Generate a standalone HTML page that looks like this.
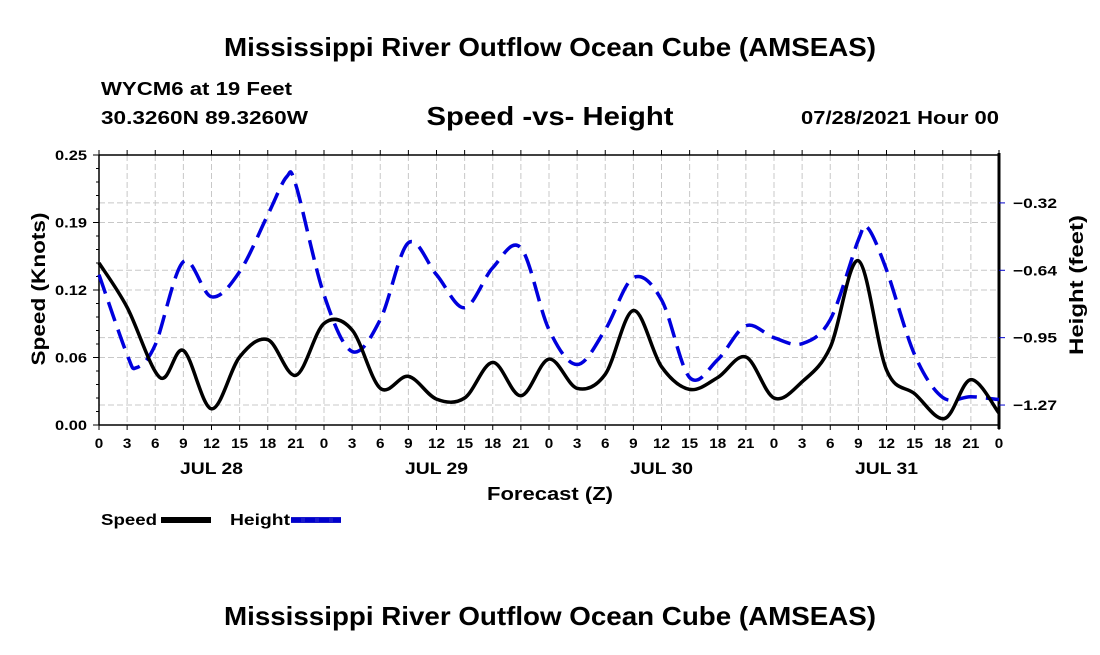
<!DOCTYPE html>
<html><head><meta charset="utf-8">
<style>
html,body{margin:0;padding:0;background:#fff;}
svg text{font-family:"Liberation Sans",Arial,sans-serif;font-weight:bold;fill:#000;}
</style></head>
<body>
<svg id="chart" width="1100" height="650" viewBox="0 0 1100 650" xmlns="http://www.w3.org/2000/svg">
<rect x="0" y="0" width="1100" height="650" fill="#fff"/>
<text x="550" y="56" font-size="26" text-anchor="middle" textLength="652" lengthAdjust="spacingAndGlyphs">Mississippi River Outflow Ocean Cube (AMSEAS)</text>
<text x="101" y="95" font-size="18" textLength="191" lengthAdjust="spacingAndGlyphs">WYCM6 at 19 Feet</text>
<text x="101" y="124" font-size="18" textLength="207" lengthAdjust="spacingAndGlyphs">30.3260N  89.3260W</text>
<text x="550" y="125" font-size="26" text-anchor="middle" textLength="247" lengthAdjust="spacingAndGlyphs">Speed -vs- Height</text>
<text x="999" y="124" font-size="18" text-anchor="end" textLength="198" lengthAdjust="spacingAndGlyphs">07/28/2021 Hour 00</text>
<g id="grid"></g>
<g id="axes"></g>
<g id="series"></g>
<text transform="translate(45,289) rotate(-90)" font-size="19" text-anchor="middle" textLength="153" lengthAdjust="spacingAndGlyphs">Speed (Knots)</text>
<text transform="translate(1083,285) rotate(-90)" font-size="19" text-anchor="middle" textLength="140" lengthAdjust="spacingAndGlyphs">Height (feet)</text>
<text x="550" y="500" font-size="18" text-anchor="middle" textLength="126" lengthAdjust="spacingAndGlyphs">Forecast (Z)</text>
<g>
<text x="101" y="525" font-size="16" textLength="56" lengthAdjust="spacingAndGlyphs">Speed</text>
<rect x="161" y="517" width="50" height="6" fill="#000"/>
<text x="230" y="525" font-size="16" textLength="60" lengthAdjust="spacingAndGlyphs">Height</text>
<rect x="291" y="517" width="50" height="6" fill="#1a1acc"/>
<line x1="291" y1="520" x2="341" y2="520" stroke="#00c" stroke-width="4" stroke-dasharray="10,4"/>
</g>
<text x="550" y="625" font-size="26" text-anchor="middle" textLength="652" lengthAdjust="spacingAndGlyphs">Mississippi River Outflow Ocean Cube (AMSEAS)</text>
</svg>
<script>
const speedHours=[0,3,6.5,9,12,15,18,21,24,27,30,33,36,39,42,45,48,51,54,57,60,63,66,69,72,75,78,81,84,87,90.2,93,96];
const speedValues=[0.15,0.109,0.044,0.069,0.015,0.063,0.079,0.046,0.094,0.088,0.034,0.045,0.024,0.025,0.058,0.027,0.061,0.034,0.047,0.106,0.054,0.033,0.044,0.063,0.025,0.040,0.072,0.152,0.051,0.029,0.006,0.042,0.011];
const heightHours=[0,3,4,6,9,12,15,18,20,21,24,27,30,33,36,39,42,45,48,51,54,57,60,63,66,69,72,75,78,81,82,84,87,90,93,96];
const heightValues=[-0.654,-1.030,-1.091,-0.983,-0.593,-0.758,-0.640,-0.373,-0.195,-0.233,-0.748,-1.015,-0.865,-0.504,-0.654,-0.809,-0.621,-0.528,-0.912,-1.076,-0.912,-0.668,-0.772,-1.137,-1.053,-0.894,-0.950,-0.978,-0.865,-0.490,-0.434,-0.631,-1.030,-1.231,-1.227,-1.241];
const leftTicks=[0,0.0625,0.125,0.1875,0.25];
const leftTickLabels=["0.00","0.06","0.12","0.19","0.25"];
const rightTicks=[-1.2664,-0.9498,-0.6332,-0.3166];
const rightTickLabels=["-1.27","-0.95","-0.64","-0.32"];
const dayLabels=["JUL 28","JUL 29","JUL 30","JUL 31"];

const X0=99,X1=999,Y0=155,Y1=425;
const xS=h=>X0+(h/96)*(X1-X0);
const yL=v=>Y1-(v/0.25)*(Y1-Y0);
const R0=-1.3602,R1=-0.0915;
const yR=v=>Y1-((v-R0)/(R1-R0))*(Y1-Y0);
const NS="http://www.w3.org/2000/svg";
function mk(parent,tag,attrs){const e=document.createElementNS(NS,tag);for(const k in attrs)e.setAttribute(k,attrs[k]);parent.appendChild(e);return e;}
const grid=document.getElementById('grid'),axes=document.getElementById('axes'),series=document.getElementById('series');

for(let h=3;h<96;h+=3){
 const l=mk(grid,'line',{x1:xS(h),x2:xS(h),y1:Y0,y2:Y1,stroke:'#c8c8c8','stroke-width':1,'stroke-dasharray':'6,3'});
 
 
}
leftTicks.slice(1,-1).forEach(v=>{
 const l=mk(grid,'line',{x1:X0,x2:X1,y1:yL(v),y2:yL(v),stroke:'#c8c8c8','stroke-width':1,'stroke-dasharray':'6,3'});
 
 
});
rightTicks.forEach(v=>{
 const l=mk(grid,'line',{x1:X0,x2:X1,y1:yR(v),y2:yR(v),stroke:'#c8c8c8','stroke-width':1,'stroke-dasharray':'6,3'});
 
 
});

mk(axes,'line',{x1:X0,x2:X1,y1:Y0,y2:Y0,stroke:'#000','stroke-width':1.5});
mk(axes,'line',{x1:X0,x2:X1,y1:Y1,y2:Y1,stroke:'#000','stroke-width':1.5});
mk(axes,'line',{x1:X0,x2:X0,y1:Y0,y2:Y1,stroke:'#000','stroke-width':1.5});
mk(axes,'line',{x1:X1,x2:X1,y1:Y0-2,y2:Y1+4,stroke:'#000','stroke-width':3});

for(let h=0;h<=96;h+=3){
 const x=xS(h);
 mk(axes,'line',{x1:x,x2:x,y1:Y1,y2:Y1+5,stroke:'#000','stroke-width':1});
 mk(axes,'line',{x1:x,x2:x,y1:Y0,y2:Y0-5,stroke:'#000','stroke-width':1});
 const s=String(h%24);
 const t=mk(axes,'text',{x:x,y:Y1+23,'font-size':14,'text-anchor':'middle',textLength:s.length*8.5,lengthAdjust:'spacingAndGlyphs'});
 t.textContent=s;
 
 
}
dayLabels.forEach((d,i)=>{
 const t=mk(axes,'text',{x:xS(i*24+12),y:Y1+49,'font-size':17,'text-anchor':'middle',textLength:63,lengthAdjust:'spacingAndGlyphs'});
 t.textContent=d;
 
 
});
for(let i=0;i<=20;i++){
 const y=yL(i*0.0125);
 mk(axes,'line',{x1:X0,x2:X0-(i%5==0?6:3),y1:y,y2:y,stroke:'#000','stroke-width':1});
}
leftTicks.forEach((v,i)=>{
 const t=mk(axes,'text',{x:X0-12,y:yL(v)+5,'font-size':14,'text-anchor':'end',textLength:32,lengthAdjust:'spacingAndGlyphs'});
 t.textContent=leftTickLabels[i];
 
 
});
rightTicks.forEach((v,i)=>{
 mk(axes,'line',{x1:X1,x2:X1+6,y1:yR(v),y2:yR(v),stroke:'#00c','stroke-width':1});
 const t=mk(axes,'text',{x:X1+14,y:yR(v)+5,'font-size':14,'text-anchor':'start',textLength:44,lengthAdjust:'spacingAndGlyphs'});
 t.textContent=rightTickLabels[i].replace('-','\u2212');
 
 
});

function smooth(pts){
 let d='M'+pts[0][0].toFixed(1)+','+pts[0][1].toFixed(1);
 for(let i=0;i<pts.length-1;i++){
  const p0=pts[Math.max(0,i-1)],p1=pts[i],p2=pts[i+1],p3=pts[Math.min(pts.length-1,i+2)];
  const c1=[p1[0]+(p2[0]-p0[0])/6,p1[1]+(p2[1]-p0[1])/6];
  const c2=[p2[0]-(p3[0]-p1[0])/6,p2[1]-(p3[1]-p1[1])/6];
  d+=' C'+c1[0].toFixed(1)+','+c1[1].toFixed(1)+' '+c2[0].toFixed(1)+','+c2[1].toFixed(1)+' '+p2[0].toFixed(1)+','+p2[1].toFixed(1);
 }
 return d;
}
const hp=mk(series,'path',{d:smooth(heightHours.map((h,i)=>[xS(h),yR(heightValues[i])])),fill:'none',stroke:'#0000dd','stroke-width':3.5,'stroke-dasharray':'20,9'});


const sp=mk(series,'path',{d:smooth(speedHours.map((h,i)=>[xS(h),yL(speedValues[i])])),fill:'none',stroke:'#000','stroke-width':3.5,'stroke-linejoin':'round'});


</script>
</body></html>
